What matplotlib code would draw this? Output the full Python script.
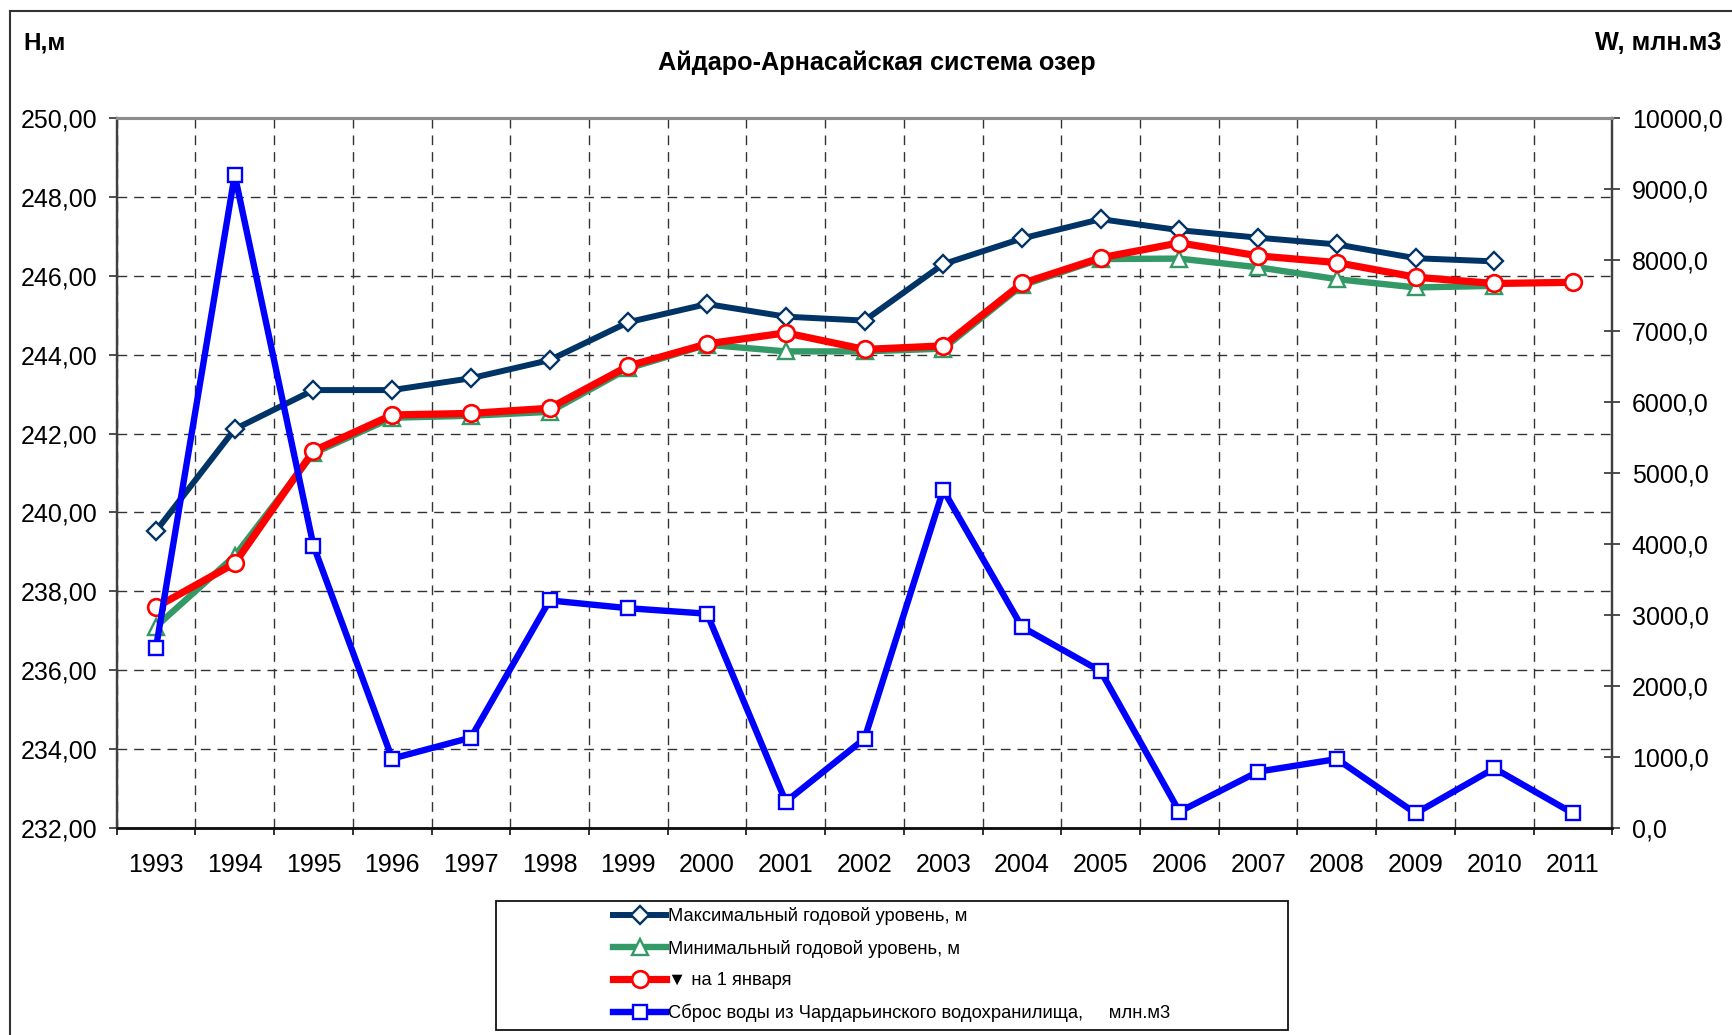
import numpy as np
import matplotlib
matplotlib.use('Agg')
import matplotlib.pyplot as plt
from matplotlib.ticker import FixedLocator, FuncFormatter, NullFormatter
from matplotlib.patches import Rectangle
from matplotlib.lines import Line2D

plt.rcParams['font.family'] = ['Liberation Sans', 'DejaVu Sans']

#%% data

years = ['1993', '1994', '1995', '1996', '1997', '1998', '1999', '2000', '2001', '2002',
         '2003', '2004', '2005', '2006', '2007', '2008', '2009', '2010', '2011']

# максимальный годовой уровень, м (no value for 2011)
h_max = [239.53, 242.11, 243.10, 243.10, 243.40, 243.86, 244.82, 245.28, 244.96, 244.86,
         246.29, 246.94, 247.43, 247.15, 246.96, 246.79, 246.44, 246.36, np.nan]

# минимальный годовой уровень, м (no value for 2011)
h_min = [237.11, 238.90, 241.50, 242.40, 242.45, 242.55, 243.65, 244.25, 244.08, 244.08,
         244.15, 245.75, 246.42, 246.43, 246.21, 245.91, 245.70, 245.74, np.nan]

# уровень на 1 января, м
h_jan = [237.60, 238.71, 241.56, 242.47, 242.51, 242.64, 243.71, 244.27, 244.55, 244.13,
         244.22, 245.80, 246.45, 246.83, 246.50, 246.33, 245.96, 245.80, 245.83]

# сброс воды из Чардарьинского водохранилища, млн.м3
w_out = [2540, 9195, 3978, 981, 1276, 3207, 3097, 3020, 374, 1261,
         4762, 2833, 2211, 234, 797, 975, 211, 844, 211]

labels = ['Максимальный годовой уровень, м',
          'Минимальный годовой уровень, м',
          '\u25bc на 1 января',
          'Сброс воды из Чардарьинского водохранилища,     млн.м3']

#%% plotting

x = np.arange(len(years))

fig = plt.figure(figsize=(17.33, 10.35), dpi=100)
ax = fig.add_axes([0.0673, 0.1997, 0.8631, 0.6866])
ax2 = ax.twinx()

l1, = ax.plot(x, h_max, color='#003366', lw=4.3, marker='D', ms=9,
              mfc='white', mec='#003366', mew=1.7, zorder=3)
l2, = ax.plot(x, h_min, color='#339966', lw=4.6, marker='^', ms=11,
              mfc='white', mec='#339966', mew=1.7, zorder=3)
l3, = ax.plot(x, h_jan, color='#ff0000', lw=5.2, marker='o', ms=12,
              mfc='white', mec='#ff0000', mew=1.9, zorder=4)
l4, = ax2.plot(x, w_out, color='#0000ff', lw=4.6, marker='s', ms=10.5,
               mfc='white', mec='#0000ff', mew=1.7, zorder=3)

# left axis
ax.set_xlim(-0.5, len(years) - 0.5)
ax.set_ylim(232, 250)
ax.set_yticks(np.arange(232, 251, 2))
ax.yaxis.set_major_formatter(FuncFormatter(lambda v, p: f'{v:.2f}'.replace('.', ',')))
ax.tick_params(axis='y', direction='out', length=6, width=1.3, pad=8.0,
               labelsize=18, color='#404040')

# x axis: ticks/grid on category borders, labels in the middle
ax.xaxis.set_major_locator(FixedLocator(np.arange(-0.5, len(years), 1.0)))
ax.xaxis.set_major_formatter(NullFormatter())
ax.xaxis.set_minor_locator(FixedLocator(x))
ax.set_xticklabels(years, minor=True)
ax.tick_params(axis='x', which='major', direction='out', length=5, width=1.3, color='#222222')
ax.tick_params(axis='x', which='minor', length=0, pad=18, labelsize=18)

# right axis
ax2.set_ylim(0, 10000)
ax2.set_yticks(np.arange(0, 10001, 1000))
ax2.yaxis.set_major_formatter(FuncFormatter(lambda v, p: f'{v:.1f}'.replace('.', ',')))
ax2.tick_params(axis='y', direction='inout', length=11, width=1.3, pad=8.5,
                labelsize=18, color='#404040')

# grid
ax.set_axisbelow(True)
ax.grid(True, which='major', axis='both', color='#333333', lw=1.0,
        linestyle=(0, (7, 5)))

for a in (ax, ax2):
    a.spines['left'].set_color('#404040')
    a.spines['left'].set_linewidth(1.6)
    a.spines['bottom'].set_color('#111111')
    a.spines['bottom'].set_linewidth(1.8)
    a.spines['top'].set_color('#8c8c8c')
    a.spines['top'].set_linewidth(2.2)
    a.spines['right'].set_color('#404040')
    a.spines['right'].set_linewidth(1.6)

# texts
fig.text(877 / 1733, 1 - 63 / 1035, 'Айдаро-Арнасайская система озер',
         ha='center', va='center', fontsize=18.2, fontweight='bold')
fig.text(23 / 1733, 1 - 43 / 1035, 'H,м', ha='left', va='center',
         fontsize=17.5, fontweight='bold')
fig.text(1721 / 1733, 1 - 43 / 1035, 'W, млн.м3', ha='right', va='center',
         fontsize=18.2, fontweight='bold')

# outer frame (only left and top visible in the source)
fig.add_artist(Line2D([9.5 / 1733, 9.5 / 1733], [0, 1 - 10.5 / 1035],
                      transform=fig.transFigure, color='#333333', lw=1.5))
fig.add_artist(Line2D([9.5 / 1733, 1], [1 - 10.5 / 1035, 1 - 10.5 / 1035],
                      transform=fig.transFigure, color='#333333', lw=1.5))

# legend box drawn separately, legend itself without frame
fig.add_artist(Rectangle((496 / 1733, 1 - 1030 / 1035), (1288 - 496) / 1733,
                         (1030 - 901) / 1035, transform=fig.transFigure,
                         fill=False, edgecolor='#111111', lw=1.3))
fig.legend([l1, l2, l3, l4], labels, loc='upper left',
           bbox_to_anchor=(613 / 1733, 1 - 907 / 1035), frameon=False,
           fontsize=13.25, handlelength=2.9, handletextpad=0.1,
           labelspacing=0.8, borderpad=0.0, borderaxespad=0.0)

plt.savefig('out.png', dpi=100)
